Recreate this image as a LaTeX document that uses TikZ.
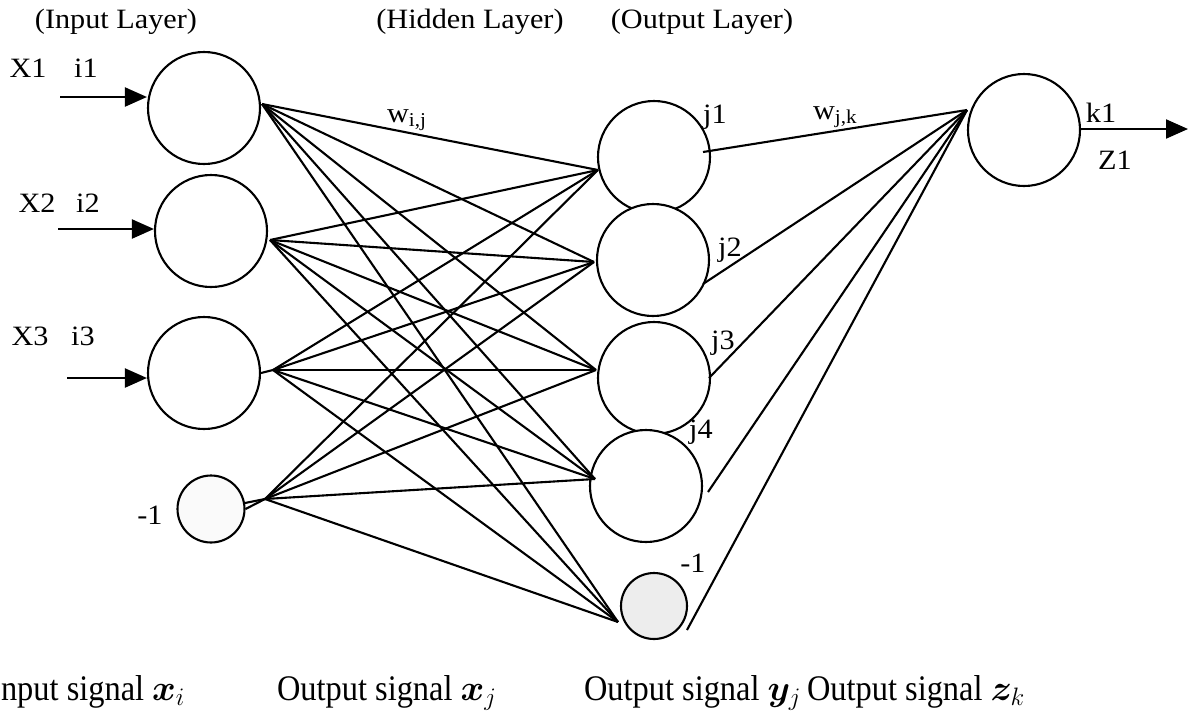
\RequirePackage{fix-cm}
\documentclass[tikz,border=0pt]{standalone}
\usepackage{fontspec}
\usepackage{bm}
\setmainfont{Liberation Serif}
\newfontfamily\labfont[FakeStretch=1.08]{Liberation Serif}
\newfontfamily\capfont[FakeStretch=0.9]{Liberation Serif}
\usetikzlibrary{arrows.meta}
\begin{document}
\begin{tikzpicture}[x=1pt,y=-1pt, line width=2.1pt,
  neuron/.style={draw, circle, minimum size=112pt, inner sep=0pt, fill=white},
  smallneuron/.style={draw, circle, minimum size=67pt, inner sep=0pt},
  lab/.style={font=\labfont\fontsize{28}{30}\selectfont, inner sep=0pt},
  sig/.style={font=\capfont\fontsize{36}{38}\selectfont, inner sep=0pt, anchor=base west},
  link/.style={line width=2.1pt},
  inarrow/.style={-{Triangle[length=22pt,width=19pt]}, line width=2.1pt}]
\useasboundingbox (0,0) rectangle (1192,716);

% titles
\node[lab] (tin) at (116,22) {(Input Layer)};
\node[lab] (thid) at (470,22) {(Hidden Layer)};
\node[lab] (tout) at (702,22) {(Output Layer)};

% input layer
\node[neuron] (i1) at (204,108) {};
\node[neuron] (i2) at (211,231) {};
\node[neuron] (i3) at (204,373) {};
\node[smallneuron, fill=gray!4] (ib) at (211,509) {};

% hidden layer
\node[neuron] (j1) at (654,157) {};
\node[neuron] (j2) at (653,260) {};
\node[neuron] (j3) at (654,378) {};
\node[neuron] (j4) at (646,486) {};
\node[smallneuron, minimum size=66pt, fill=gray!14] (jb) at (654,606) {};

% output layer
\node[neuron] (k1) at (1024,130) {};

% input arrows
\coordinate (a1) at (60,97);
\coordinate (a2) at (58,229);
\coordinate (a3) at (67,378);
\draw[inarrow] (a1) -- (i1.west |- a1);
\draw[inarrow] (a2) -- (i2.west |- a2);
\draw[inarrow] (a3) -- (i3.west |- a3);
\coordinate (zout) at (1188,129);
\draw[inarrow] (k1.east |- zout) -- (zout);

% labels near input
\node[lab] (lx1) at (28,68) {X1};
\node[lab] (li1) at (86,68) {i1};
\node[lab] (lx2) at (37,203) {X2};
\node[lab] (li2) at (88,203) {i2};
\node[lab] (lx3) at (30,336) {X3};
\node[lab] (li3) at (83,336) {i3};
\node[lab] (lb1) at (150,515) {-1};

% hidden labels
\node[lab] (lj1) at (715,117) {j1};
\node[lab] (lj2) at (730,250) {j2};
\node[lab] (lj3) at (723,343) {j3};
\node[lab] (lj4) at (701,432) {j4};
\node[lab] (lb2) at (693,563) {-1};
\node[lab] (lk1) at (1101,113) {k1};
\node[lab] (lz1) at (1115,160) {Z1};

% weight labels
\node[lab, anchor=base west] (wij) at (386,122) {w\textsubscript{i,j}};
\node[lab, anchor=base west] (wjk) at (812,119) {w\textsubscript{j,k}};

% connection points
\coordinate (i1o) at (262,104);
\coordinate (i2o) at (270,240);
\coordinate (i3o) at (273,370);
\coordinate (ibo) at (265,499);
\coordinate (j1i) at (598,170);
\coordinate (j2i) at (594,262);
\coordinate (j3i) at (596,370);
\coordinate (j4i) at (595,479);
\coordinate (jbi) at (618,622);
\coordinate (j1o) at (703,152);
\coordinate (j2o) at (703,284);
\coordinate (j3o) at (709,378);
\coordinate (j4o) at (708,492);
\coordinate (jbo) at (687,630);
\coordinate (k1i) at (967,110);

% stubs
\draw[link] (i3.east) -- (i3o);
\draw[link] (ib.east) -- (ibo);
\draw[link] (ib.10) -- (ibo);

% input -> hidden
\foreach \s in {i1o,i2o,i3o,ibo}{
  \foreach \t in {j1i,j2i,j3i,j4i,jbi}{
    \draw[link] (\s) -- (\t);
  }
}
% hidden -> output
\foreach \s in {j1o,j2o,j3o,j4o,jbo}{
  \draw[link] (\s) -- (k1i);
}

% bottom captions
\node[sig] (s1) at (0,700) {nput signal $\bm{x}_i$};
\node[sig] (s2) at (276,700) {Output signal $\bm{x}_j$};
\node[sig] (s3) at (583,700) {Output signal $\bm{y}_j$};
\node[sig] (s4) at (806,700) {Output signal $\bm{z}_k$};
\end{tikzpicture}
\end{document}
